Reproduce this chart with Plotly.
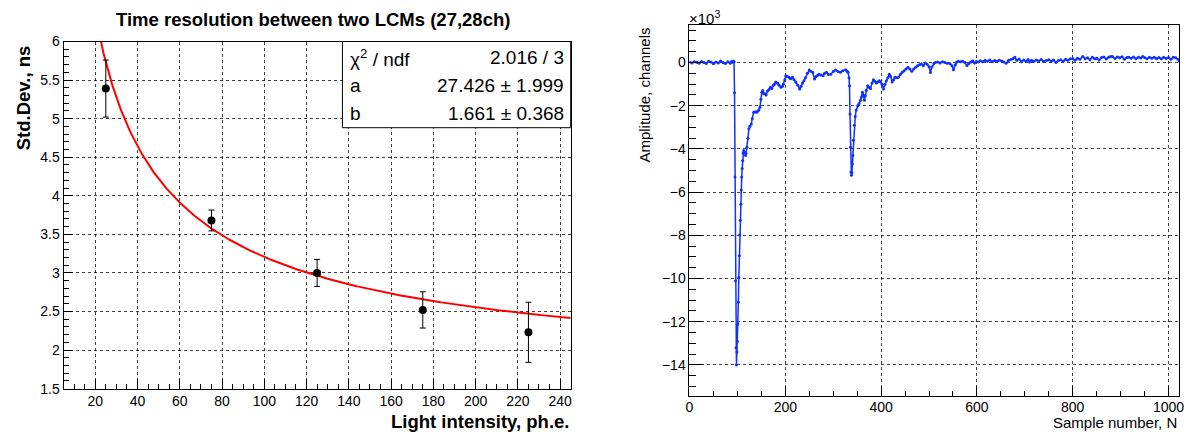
import plotly.graph_objects as go
import numpy as np

W, H = 1194, 432
FIG_H = 447      # page is captured slightly taller than the window; fill it
TOP_SHIFT = -7

# ---------------- left panel data ----------------
light = [25, 75, 125, 175, 225]
stddev = [5.39, 3.68, 3.00, 2.52, 2.23]
stddev_err = [0.37, 0.135, 0.175, 0.235, 0.39]
fit_a = 27.426
fit_b = 1.661
fit_range = [5, 245]
stats_rows = [["χ<sup>2</sup> / ndf", "2.016 / 3"],
              ["a", "27.426 ± 1.999"],
              ["b", "1.661 ± 0.368"]]
left_xticks = list(range(20, 241, 20))
left_yticks = [1.5, 2, 2.5, 3, 3.5, 4, 4.5, 5, 5.5, 6]

# ---------------- right panel data (waveform) ----------------
samples = [0, 5, 10, 15, 20, 25, 30, 35, 40, 45, 50, 55, 60, 65, 70, 75, 80, 85, 88, 90, 92, 93,
           94, 95, 96, 97, 98, 99, 100, 101, 102, 103, 104, 105, 106, 107, 108, 109, 110, 111, 112, 113,
           115, 117, 118, 120, 122, 124, 126, 129, 131, 134, 137, 140, 142, 145, 147, 149, 151, 153,
           155, 158, 160, 163, 166, 169, 172, 175, 177, 180, 184, 187, 191, 194, 196, 199, 201, 204,
           208, 211, 215, 218, 222, 226, 230, 233, 236, 239, 242, 246, 250, 253, 257, 261, 264, 267,
           270, 274, 279, 282, 286, 290, 295, 300, 305, 310, 315, 320, 326, 329, 331, 333, 334, 335,
           336, 337, 338, 339, 340, 341, 342, 344, 346, 348, 351, 354, 357, 359, 361, 363, 365, 367,
           369, 372, 375, 378, 381, 384, 387, 390, 393, 396, 399, 402, 405, 408, 411, 414, 417, 420,
           423, 426, 429, 433, 436, 440, 444, 448, 452, 456, 460, 464, 468, 472, 476, 480, 484, 488,
           492, 496, 500, 503, 506, 510, 513, 518, 523, 528, 533, 538, 544, 548, 551, 555, 558, 561,
           566, 570, 575, 579, 583, 587, 591, 595, 599, 603, 607, 612, 617, 622, 627, 632, 637, 642,
           647, 652, 656, 661, 666, 671, 675, 679, 683, 688, 693, 698, 703, 707, 710, 714, 719, 724,
           729, 734, 739, 745, 750, 755, 760, 765, 770, 775, 780, 785, 790, 795, 800, 805, 810, 815,
           821, 826, 831, 836, 841, 846, 850, 855, 860, 865, 870, 875, 879, 883, 888, 893, 898, 903,
           908, 913, 917, 922, 927, 932, 937, 942, 946, 950, 955, 960, 965, 970, 975, 980, 985, 990,
           995, 1000, 1005, 1010, 1015, 1020, 1023]
amplitude = [30, -20, 40, 10, -30, 50, 0, -40, 60, 20, -60, 30, -20, 70, 0, -50, 40, -30, 50, 10, 60, 40,
             -1400, -5300, -10100, -13200, -14000, -13400, -12900, -12100, -11100, -9950, -8940, -7970, -7300, -6560, -5900, -5300, -4900, -4530, -4200, -4070,
             -4150, -4300, -4200, -3920, -3500, -3070, -2950, -2840, -2600, -2300, -2280, -2300, -2260, -2200, -2070, -1700, -1380, -1300,
             -1450, -1450, -1500, -1320, -1250, -1150, -1200, -1050, -1000, -900, -960, -1050, -1140, -1100, -1000, -800, -610, -650,
             -680, -750, -680, -780, -900, -1050, -1230, -1100, -950, -840, -700, -500, -350, -400, -450, -760, -650, -600,
             -540, -580, -610, -500, -450, -550, -540, -420, -350, -420, -450, -380, -340, -400, -450, -700, -1070, -2380,
             -3920, -5070, -5220, -5100, -4700, -4300, -3600, -2900, -2500, -2200, -2000, -1900, -1750, -1600, -1380, -1500, -1750, -1540,
             -1300, -1070, -1140, -1200, -950, -800, -870, -950, -900, -840, -900, -1000, -1230, -1000, -840, -700, -540, -650,
             -900, -800, -680, -700, -680, -550, -450, -380, -300, -220, -300, -400, -300, -220, -150, -100, -70, -150,
             -20, -80, -200, -460, -200, -50, 0, 30, -20, 40, 0, -30, -60, -150, -340, -100, 20, 60,
             40, 60, 0, -140, -40, 20, 80, -20, 50, 20, 80, 40, 100, 60, 120, 40, 90, 60,
             110, 70, 20, -30, 100, 140, 180, 250, 100, 160, 40, 120, 60, 140, 20, 100, 60, 120,
             70, 140, 50, 90, 130, 60, 120, 0, 90, 130, 60, 150, 100, 170, 180, 110, 200, 150,
             280, 180, 220, 130, 250, 170, 200, 120, 230, 260, 160, 240, 280, 280, 190, 260, 220, 270,
             150, 230, 250, 200, 260, 180, 250, 210, 280, 230, 170, 240, 200, 250, 180, 230, 170, 240,
             190, 230, 150, 250, 220, 150, 60]
right_xticks = [0, 200, 400, 600, 800, 1000]
right_yticks = [-14000, -12000, -10000, -8000, -6000, -4000, -2000, 0]
right_yticklabels = ["−14", "−12", "−10", "−8", "−6", "−4", "−2", "0"]

# ---------------- geometry helpers (fractions of the final picture) ----------------
def px(x):
    return x / W

def py(y):
    return 1 - y / H

L_x0, L_x1, L_y0, L_y1 = 60, 571, 40.6, 388.5
R_x0, R_x1, R_y0, R_y1 = 690.7, 1184, 24, 396

FONT = "Liberation Sans, Arial, Helvetica, sans-serif"

fig = go.Figure()

# fit curve
xf = np.linspace(fit_range[0], fit_range[1], 600)
yf = np.sqrt(fit_a ** 2 / xf + fit_b ** 2)
fig.add_trace(go.Scatter(x=xf, y=yf, mode="lines", line=dict(color="#ff0000", width=2),
                         xaxis="x", yaxis="y", showlegend=False, hoverinfo="skip"))
# data points
fig.add_trace(go.Scatter(x=light, y=stddev, mode="markers",
                         marker=dict(color="black", size=8),
                         error_y=dict(type="data", array=stddev_err, color="black", thickness=1, width=3),
                         xaxis="x", yaxis="y", showlegend=False))
# waveform
fig.add_trace(go.Scatter(x=samples, y=amplitude, mode="lines+markers",
                         line=dict(color="#1030ff", width=1.5),
                         marker=dict(color="#1030ff", size=3),
                         xaxis="x2", yaxis="y2", showlegend=False))

grid = dict(showgrid=True, gridcolor="rgba(0,0,0,0.75)", gridwidth=1, griddash="dot")
frame = dict(showline=True, linecolor="black", linewidth=1, mirror=True, zeroline=False)
tickfont = dict(family=FONT, size=14, color="black")

fig.update_layout(
    width=W, height=FIG_H, margin=dict(l=0, r=0, t=0, b=0),
    paper_bgcolor="white", plot_bgcolor="white",
    xaxis=dict(domain=[px(L_x0), px(L_x1)], range=[5, 245], anchor="y",
               tickmode="array", tickvals=left_xticks, ticks="inside", ticklen=10, tickcolor="black",
               minor=dict(tickmode="linear", tick0=0, dtick=5, ticks="inside", ticklen=5, tickcolor="black", showgrid=False),
               tickfont=tickfont, **grid, **frame),
    yaxis=dict(domain=[py(L_y1), py(L_y0)], range=[1.5, 6], anchor="x",
               tickmode="array", tickvals=left_yticks, ticks="inside", ticklen=9, tickcolor="black",
               minor=dict(tickmode="linear", tick0=0, dtick=0.1, ticks="inside", ticklen=5, tickcolor="black", showgrid=False),
               tickfont=tickfont, **grid, **frame),
    xaxis2=dict(domain=[px(R_x0), px(R_x1)], range=[0, 1022], anchor="y2",
                tickmode="array", tickvals=right_xticks, ticks="inside", ticklen=10, tickcolor="black",
                ticklabelstandoff=-2,
                minor=dict(tickmode="linear", tick0=0, dtick=50, ticks="inside", ticklen=5, tickcolor="black", showgrid=False),
                tickfont=tickfont, **grid, **frame),
    yaxis2=dict(domain=[py(R_y1), py(R_y0)], range=[-15440, 1740], anchor="x2",
                tickmode="array", tickvals=right_yticks, ticktext=right_yticklabels,
                ticks="inside", ticklen=14, tickcolor="black",
                minor=dict(tickmode="linear", tick0=0, dtick=500, ticks="inside", ticklen=7, tickcolor="black", showgrid=False),
                tickfont=tickfont, **grid, **frame),
)

ann = []
# left title
ann.append(dict(text="<b>Time resolution between two LCMs (27,28ch)</b>", x=px(311), y=py(19),
                xanchor="center", yanchor="middle", font=dict(family=FONT, size=18.5, color="black")))
# left axis titles
ann.append(dict(text="<b>Light intensity, ph.e.</b>", x=px(572), y=py(421),
                xanchor="right", yanchor="middle", font=dict(family=FONT, size=18.5, color="black")))
ann.append(dict(text="<b>Std.Dev., ns</b>", x=px(20), y=py(42), textangle=-90,
                xanchor="center", yanchor="top", font=dict(family=FONT, size=18.5, color="black")))
# stats box text
row_y = [57, 85, 113]
for (lab, val), yy in zip(stats_rows, row_y):
    ann.append(dict(text=lab, x=px(347), y=py(yy), xanchor="left", yanchor="middle",
                    font=dict(family=FONT, size=19, color="black")))
    ann.append(dict(text=val, x=px(566), y=py(yy), xanchor="right", yanchor="middle",
                    font=dict(family=FONT, size=19, color="black")))
# right axis titles
ann.append(dict(text="Sample number, N", x=px(1184), y=py(422.5), xanchor="right", yanchor="middle",
                font=dict(family=FONT, size=15, color="black")))
ann.append(dict(text="Amplitude, channels", x=px(645), y=py(25), textangle=-90,
                xanchor="center", yanchor="top", font=dict(family=FONT, size=15, color="black")))
ann.append(dict(text="×10<sup>3</sup>", x=px(688), y=py(17), xanchor="left", yanchor="middle",
                font=dict(family=FONT, size=15, color="black")))
for a in ann:
    a.update(xref="paper", yref="paper", showarrow=False)
fig.update_layout(annotations=ann)

fig.update_layout(shapes=[dict(type="rect", xref="paper", yref="paper",
                               x0=px(341), x1=px(L_x1), y0=py(127), y1=py(L_y0),
                               line=dict(color="black", width=1), fillcolor="white", layer="above")])

post = ("document.documentElement.style.margin='0px';"
        "document.documentElement.style.overflow='hidden';"
        "document.body.style.margin='0px';document.body.style.padding='0px';"
        "document.body.style.overflow='hidden';"
        "var g=document.getElementsByClassName('plotly-graph-div')[0];"
        "g.style.position='fixed';g.style.top='%dpx';g.style.left='0px';" % TOP_SHIFT)

fig.write_html("out.html", config={"displayModeBar": False}, post_script=post)
